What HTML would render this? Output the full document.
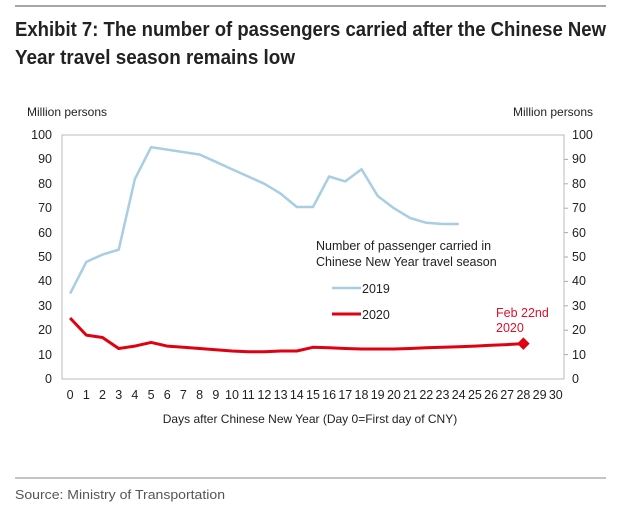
<!DOCTYPE html>
<html><head><style>body{margin:0;background:#fff}svg{display:block}</style></head>
<body>
<svg width="620" height="510" viewBox="0 0 620 510" xmlns="http://www.w3.org/2000/svg" font-family="Liberation Sans, sans-serif">
<line x1="15" y1="6" x2="606" y2="6" stroke="#888" stroke-width="1.5"/>
<text x="15" y="36" font-size="20" font-weight="bold" fill="#222" textLength="591" lengthAdjust="spacingAndGlyphs">Exhibit 7: The number of passengers carried after the Chinese New</text>
<text x="15" y="64" font-size="20" font-weight="bold" fill="#222" textLength="280" lengthAdjust="spacingAndGlyphs">Year travel season remains low</text>
<g font-size="12" fill="#222">
<text x="27" y="116">Million persons</text>
<text x="513" y="116">Million persons</text>
</g>
<rect x="62" y="135" width="502" height="244" fill="none" stroke="#bbb" stroke-width="1"/>
<g font-size="12.5" fill="#222" text-anchor="end">
<text x="52" y="139">100</text><text x="52" y="163">90</text><text x="52" y="188">80</text><text x="52" y="212">70</text><text x="52" y="237">60</text><text x="52" y="261">50</text><text x="52" y="285">40</text><text x="52" y="310">30</text><text x="52" y="334">20</text><text x="52" y="359">10</text><text x="52" y="383">0</text>
</g>
<g font-size="12.5" fill="#222">
<text x="572" y="139">100</text><text x="572" y="163">90</text><text x="572" y="188">80</text><text x="572" y="212">70</text><text x="572" y="237">60</text><text x="572" y="261">50</text><text x="572" y="285">40</text><text x="572" y="310">30</text><text x="572" y="334">20</text><text x="572" y="359">10</text><text x="572" y="383">0</text>
</g>
<g stroke="#aaa">
<line x1="564" y1="159.4" x2="568" y2="159.4"/><line x1="564" y1="183.8" x2="568" y2="183.8"/><line x1="564" y1="208.2" x2="568" y2="208.2"/><line x1="564" y1="232.6" x2="568" y2="232.6"/><line x1="564" y1="257" x2="568" y2="257"/><line x1="564" y1="281.4" x2="568" y2="281.4"/><line x1="564" y1="305.8" x2="568" y2="305.8"/><line x1="564" y1="330.2" x2="568" y2="330.2"/><line x1="564" y1="354.6" x2="568" y2="354.6"/>
</g>
<g font-size="12.5" fill="#222" text-anchor="middle">
<text x="70.1" y="399">0</text><text x="86.3" y="399">1</text><text x="102.5" y="399">2</text><text x="118.7" y="399">3</text><text x="134.9" y="399">4</text><text x="151.1" y="399">5</text><text x="167.2" y="399">6</text><text x="183.4" y="399">7</text><text x="199.6" y="399">8</text><text x="215.8" y="399">9</text><text x="232" y="399">10</text><text x="248.2" y="399">11</text><text x="264.4" y="399">12</text><text x="280.6" y="399">13</text><text x="296.8" y="399">14</text><text x="313" y="399">15</text><text x="329.1" y="399">16</text><text x="345.3" y="399">17</text><text x="361.5" y="399">18</text><text x="377.7" y="399">19</text><text x="393.9" y="399">20</text><text x="410.1" y="399">21</text><text x="426.3" y="399">22</text><text x="442.5" y="399">23</text><text x="458.7" y="399">24</text><text x="474.9" y="399">25</text><text x="491.1" y="399">26</text><text x="507.2" y="399">27</text><text x="523.4" y="399">28</text><text x="539.6" y="399">29</text><text x="555.8" y="399">30</text>
</g>
<text x="310" y="423" font-size="12" fill="#222" text-anchor="middle">Days after Chinese New Year (Day 0=First day of CNY)</text>
<polyline fill="none" stroke="#a9cde3" stroke-width="2.5" stroke-linejoin="round" points="70.1,293.6 86.3,261.9 102.5,254.6 118.7,249.7 134.9,178.9 151.1,147.2 167.2,149.6 183.4,152.1 199.6,154.5 215.8,161.8 232,169.2 248.2,176.5 264.4,183.8 280.6,193.6 296.8,207 313,207 329.1,176.5 345.3,181.4 361.5,169.2 377.7,196 393.9,208.2 410.1,218 426.3,222.8 442.5,224 458.7,224"/>
<polyline fill="none" stroke="#e0000f" stroke-width="3" stroke-linejoin="round" points="70.1,318 86.3,335.1 102.5,337.5 118.7,348.5 134.9,346.1 151.1,342.4 167.2,346.1 183.4,347.3 199.6,348.5 215.8,349.7 232,351 248.2,351.7 264.4,351.7 280.6,351 296.8,351 313,347.3 329.1,347.8 345.3,348.5 361.5,349 377.7,349 393.9,349 410.1,348.5 426.3,347.8 442.5,347.3 458.7,346.8 474.9,346.1 491.1,345.3 507.2,344.6 523.4,343.6"/>
<rect x="519" y="339.2" width="8.8" height="8.8" fill="#e0000f" transform="rotate(45 523.4 343.6)"/>
<g font-size="12.5" fill="#222">
<text x="316" y="250">Number of passenger carried in</text>
<text x="316" y="266">Chinese New Year travel season</text>
<text x="362" y="293">2019</text>
<text x="362" y="319">2020</text>
</g>
<line x1="332" y1="288" x2="361" y2="288" stroke="#a9cde3" stroke-width="2.5"/>
<line x1="332" y1="314" x2="361" y2="314" stroke="#e0000f" stroke-width="3"/>
<g font-size="12.5" fill="#e0102a">
<text x="496" y="317">Feb 22nd</text>
<text x="496" y="332">2020</text>
</g>
<line x1="15" y1="478" x2="606" y2="478" stroke="#888" stroke-width="1"/>
<text x="15" y="499" font-size="13" fill="#555" textLength="210" lengthAdjust="spacingAndGlyphs">Source: Ministry of Transportation</text>
</svg>
</body></html>
